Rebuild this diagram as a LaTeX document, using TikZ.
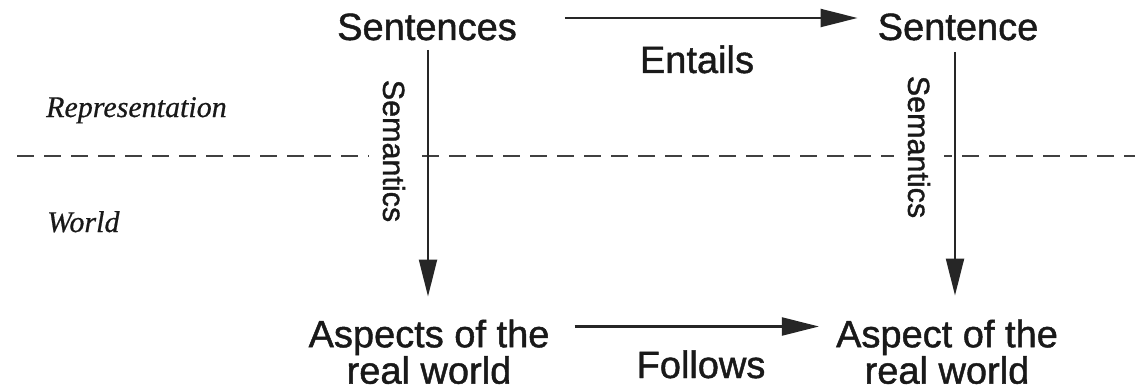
\documentclass[tikz,border=0pt]{standalone}
\usepackage{fontspec}
\setmainfont{Liberation Serif}
\newfontfamily\lsans[FakeBold=1.2]{Liberation Sans}
\newfontfamily\lserifit[FakeBold=0.6]{Liberation Serif Italic}
\usetikzlibrary{arrows.meta,calc}

\tikzset{
  lbl/.style={font=\lsans\fontsize{38}{34}\selectfont, inner sep=0pt, text=black!90},
  semlbl/.style={font=\lsans\fontsize{30.5}{34}\selectfont, rotate=-90, fill=white,
                 inner xsep=2pt, inner ysep=14pt, text=black!90},
  side/.style={font=\lserifit\fontsize{30}{34}\selectfont, inner sep=0pt, anchor=base west, text=black!90},
  arr/.style={line width=2.2pt, draw=black!85, -{Triangle[length=37pt,width=18pt]}},
  divider/.style={line width=2.2pt, draw=black!75, dash pattern=on 17pt off 10pt}
}

\begin{document}
\begin{tikzpicture}[x=1pt,y=1pt]
  \useasboundingbox (0,0) rectangle (1135,389);

  % boundary between representation and world
  \draw[divider] (17,233) -- (1135,233);

  \node[side] (rep) at (46,272) {Representation};
  \node[side] (wld) at (47,157) {World};

  % sentences and aspects
  \node[lbl, anchor=base] (sents) at (427,349) {Sentences};
  \node[lbl, anchor=base] (sent)  at (958,349) {Sentence};
  \node[lbl, anchor=north, align=center] (asp1) at (429,69.5) {Aspects of the\\real world};
  \node[lbl, anchor=north, align=center] (asp2) at (947,69.5) {Aspect of the\\real world};

  \node[lbl, anchor=base] (entails) at (697,316) {Entails};
  \node[lbl, anchor=base] (follows) at (701,11) {Follows};

  % relations
  \draw[arr] ($(sents.base east)+(48,22)$) -- ($(sent.base west)+(-20,22)$);
  \draw[arr] ($(asp1.north east)+(25,-7)$) -- ($(asp2.north west)+(-17,-7)$);

  \node[semlbl] (sem1) at (394,238) {Semantics};
  \node[semlbl] (sem2) at (919,242) {Semantics};

  \draw[arr] ($(sents.base)+(1,-10)$) -- ($(asp1.north)+(-1,23)$);
  \draw[arr] ($(sent.base)+(-3,-12)$) -- ($(asp2.north)+(8,24)$);
\end{tikzpicture}
\end{document}
